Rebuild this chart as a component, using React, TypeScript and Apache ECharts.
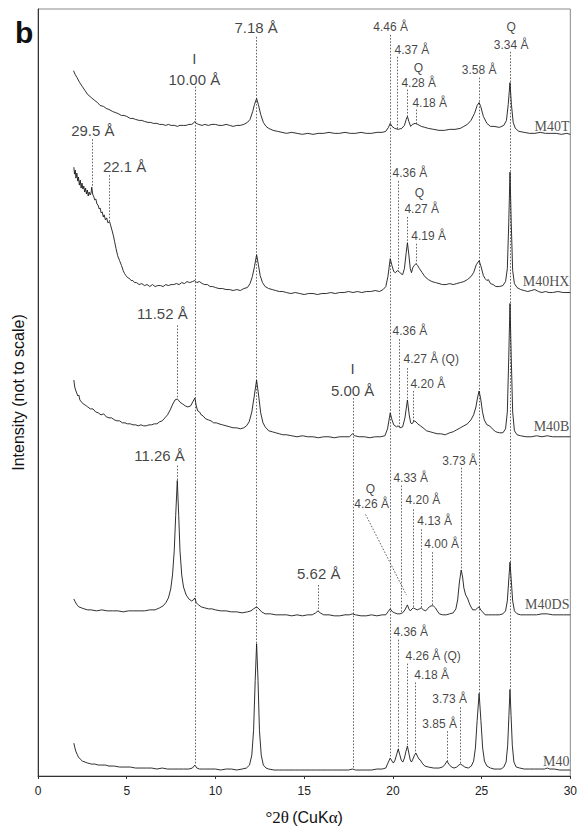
import React, { useEffect, useRef } from "react";
import * as echarts from "echarts";

// XRD patterns (°2θ, intensity above each pattern's own baseline, arbitrary units)
const M40T: [number, number][] = [[2.0,64],[2.1,60],[2.2,57],[2.35,52],[2.5,48],[2.65,44],[2.8,40],[3.0,37],[3.2,34],[3.35,32],[3.5,29],[3.7,28],[3.85,26],[4.0,25],[4.2,23],[4.35,22],[4.5,21],[4.7,19],[4.85,19],[5.0,18],[5.2,16],[5.35,16],[5.5,15],[5.7,14],[5.85,14],[6.0,13],[6.2,12],[6.35,12],[6.5,11],[6.7,11],[6.85,10],[7.0,10],[7.2,9],[7.35,10],[7.5,9],[7.7,9],[7.85,8],[8.0,9],[8.2,9],[8.35,9],[8.5,10],[8.65,10],[8.75,11],[8.84,13],[8.92,11],[9.05,10],[9.25,9],[9.4,10],[9.6,9],[9.8,10],[10.0,10],[10.2,9],[10.4,9],[10.6,10],[10.8,9],[11.0,8],[11.2,9],[11.4,9],[11.6,10],[11.8,12],[11.95,15],[12.1,23],[12.2,30],[12.32,36],[12.42,30],[12.55,20],[12.7,12],[12.85,8],[13.0,6],[13.25,4],[13.5,3],[13.75,2],[14.0,1],[14.3,2],[14.6,1],[14.9,0],[15.2,1],[15.5,0],[15.8,1],[16.1,1],[16.4,2],[16.7,1],[17.0,1],[17.3,2],[17.6,1],[17.9,1],[18.2,2],[18.5,1],[18.8,1],[19.1,2],[19.4,2],[19.6,3],[19.75,7],[19.85,11],[19.95,8],[20.1,6],[20.3,5],[20.5,6],[20.65,9],[20.75,15],[20.82,18],[20.9,13],[21.0,8],[21.1,10],[21.25,11],[21.4,10],[21.6,8],[21.8,7],[22.0,6],[22.3,5],[22.6,4],[22.9,4],[23.2,5],[23.5,5],[23.8,6],[24.0,8],[24.2,10],[24.4,14],[24.6,21],[24.75,29],[24.86,32],[24.95,28],[25.1,18],[25.3,11],[25.5,8],[25.7,8],[26.0,7],[26.25,9],[26.4,14],[26.5,30],[26.6,52],[26.68,30],[26.78,12],[26.9,6],[27.1,3],[27.4,2],[27.7,1],[28.0,1],[28.3,2],[28.6,1],[28.9,1],[29.2,1],[29.5,0],[29.8,1],[30.0,0]];

const M40HX: [number, number][] = [[2.02,126],[2.06,119],[2.1,123],[2.14,115],[2.19,120],[2.24,112],[2.28,116],[2.33,108],[2.38,113],[2.43,105],[2.48,110],[2.53,104],[2.58,107],[2.63,101],[2.68,105],[2.73,99],[2.78,103],[2.83,97],[2.88,101],[2.94,98],[2.99,100],[3.03,106],[3.08,99],[3.15,96],[3.2,93],[3.26,94],[3.32,89],[3.38,88],[3.45,84],[3.5,85],[3.56,80],[3.62,81],[3.68,76],[3.73,78],[3.8,73],[3.87,75],[3.94,70],[4.0,71],[4.04,71],[4.1,67],[4.18,62],[4.25,57],[4.32,51],[4.4,44],[4.49,37],[4.6,32],[4.71,27],[4.8,22],[4.88,19],[4.96,17],[5.05,15],[5.16,14],[5.25,12],[5.35,12],[5.44,10],[5.55,10],[5.7,8],[5.85,9],[6.0,7],[6.15,8],[6.3,6],[6.45,8],[6.6,6],[6.75,7],[6.9,7],[7.05,6],[7.2,8],[7.35,7],[7.5,8],[7.65,8],[7.8,9],[7.95,8],[8.1,10],[8.25,9],[8.4,11],[8.55,10],[8.7,11],[8.84,12],[8.95,10],[9.1,11],[9.25,9],[9.4,8],[9.55,8],[9.7,6],[9.85,6],[10.0,5],[10.2,4],[10.4,4],[10.6,3],[10.8,3],[11.0,2],[11.2,3],[11.4,2],[11.6,4],[11.8,5],[11.95,9],[12.08,16],[12.2,26],[12.32,38],[12.42,28],[12.52,17],[12.65,10],[12.8,6],[13.0,4],[13.2,3],[13.4,2],[13.6,1],[13.8,1],[14.0,0],[14.25,-1],[14.5,0],[14.75,-1],[15.0,-2],[15.25,-1],[15.5,-1],[15.75,-2],[16.0,-1],[16.25,-1],[16.5,0],[16.75,-1],[17.0,0],[17.25,0],[17.5,1],[17.75,0],[18.0,1],[18.25,0],[18.5,1],[18.75,1],[19.0,2],[19.25,1],[19.45,3],[19.6,6],[19.72,16],[19.85,34],[19.95,27],[20.05,21],[20.15,20],[20.25,22],[20.35,21],[20.45,19],[20.55,18],[20.65,24],[20.75,40],[20.82,50],[20.9,38],[20.98,24],[21.05,20],[21.12,25],[21.2,27],[21.3,29],[21.4,27],[21.5,24],[21.65,20],[21.8,16],[22.0,13],[22.2,11],[22.4,10],[22.6,9],[22.8,8],[23.0,8],[23.2,9],[23.4,8],[23.6,9],[23.8,10],[24.0,11],[24.2,13],[24.4,16],[24.55,20],[24.7,28],[24.86,32],[24.97,26],[25.1,17],[25.2,14],[25.3,12],[25.38,13],[25.5,9],[25.65,8],[25.8,6],[26.0,6],[26.2,7],[26.35,11],[26.45,24],[26.53,70],[26.6,121],[26.67,70],[26.75,22],[26.85,9],[27.0,5],[27.2,3],[27.4,2],[27.6,1],[27.8,2],[28.0,3],[28.2,1],[28.4,0],[28.6,1],[28.8,0],[29.0,0],[29.3,1],[29.6,0],[30.0,0]];

const M40B: [number, number][] = [[2.02,57],[2.07,50],[2.12,47],[2.18,44],[2.25,41],[2.3,42],[2.36,37],[2.45,35],[2.55,33],[2.65,32],[2.8,30],[2.95,28],[3.1,28],[3.25,25],[3.4,24],[3.55,22],[3.7,23],[3.85,20],[4.0,19],[4.15,19],[4.3,17],[4.45,16],[4.6,16],[4.75,14],[4.9,14],[5.05,13],[5.2,13],[5.35,12],[5.5,12],[5.65,11],[5.8,12],[5.95,11],[6.1,11],[6.25,12],[6.4,12],[6.55,13],[6.7,13],[6.85,15],[7.0,16],[7.15,19],[7.3,22],[7.45,27],[7.6,33],[7.72,37],[7.85,38],[7.95,36],[8.05,34],[8.15,33],[8.3,31],[8.45,30],[8.6,31],[8.72,35],[8.84,39],[8.92,31],[9.0,26],[9.1,25],[9.2,22],[9.3,21],[9.45,18],[9.6,17],[9.75,16],[9.9,14],[10.05,14],[10.2,13],[10.4,12],[10.6,11],[10.8,10],[11.0,9],[11.2,9],[11.4,8],[11.6,9],[11.75,11],[11.9,15],[12.05,25],[12.18,40],[12.32,57],[12.43,42],[12.55,24],[12.68,14],[12.8,10],[13.0,6],[13.2,5],[13.4,4],[13.6,3],[13.8,2],[14.0,2],[14.3,1],[14.6,0],[14.9,1],[15.2,0],[15.5,0],[15.8,-1],[16.1,0],[16.4,0],[16.7,-1],[17.0,0],[17.3,0],[17.55,0],[17.72,3],[17.85,1],[18.1,0],[18.4,0],[18.7,-1],[19.0,0],[19.3,0],[19.55,1],[19.7,8],[19.85,24],[19.95,17],[20.05,12],[20.2,10],[20.3,11],[20.4,9],[20.55,10],[20.68,19],[20.82,37],[20.92,22],[21.0,14],[21.08,13],[21.2,16],[21.3,15],[21.4,13],[21.55,11],[21.7,9],[21.9,6],[22.1,5],[22.3,4],[22.5,3],[22.7,3],[22.95,2],[23.2,4],[23.4,5],[23.6,7],[23.8,9],[24.0,11],[24.2,13],[24.4,17],[24.55,22],[24.68,30],[24.78,40],[24.86,46],[24.95,38],[25.05,25],[25.15,17],[25.3,12],[25.45,11],[25.6,8],[25.8,5],[26.0,4],[26.2,4],[26.35,8],[26.45,25],[26.53,80],[26.6,134],[26.67,80],[26.75,25],[26.85,6],[27.0,2],[27.2,1],[27.5,0],[27.8,0],[28.1,1],[28.4,0],[28.7,1],[29.0,0],[29.3,0],[29.6,0],[30.0,0]];

const M40DS: [number, number][] = [[2.02,16],[2.1,13],[2.2,10],[2.3,8],[2.45,7],[2.6,6],[2.8,5],[3.0,5],[3.3,4],[3.6,5],[3.9,4],[4.2,4],[4.5,4],[4.8,3],[5.1,4],[5.4,4],[5.7,4],[6.0,4],[6.3,5],[6.6,5],[6.85,7],[7.05,9],[7.2,12],[7.35,17],[7.48,26],[7.58,40],[7.68,65],[7.76,100],[7.85,135],[7.93,100],[8.0,65],[8.1,40],[8.2,28],[8.35,20],[8.5,16],[8.65,14],[8.76,15],[8.84,17],[8.92,12],[9.05,10],[9.2,8],[9.4,7],[9.6,6],[9.8,6],[10.0,5],[10.3,4],[10.6,4],[10.9,3],[11.2,3],[11.5,2],[11.8,3],[12.0,4],[12.15,6],[12.32,8],[12.45,6],[12.6,3],[12.8,1],[13.1,1],[13.4,0],[13.7,0],[14.0,0],[14.3,-1],[14.6,0],[14.9,-1],[15.2,0],[15.45,0],[15.65,2],[15.78,4],[15.9,2],[16.1,0],[16.4,0],[16.7,-1],[17.0,-1],[17.3,0],[17.55,0],[17.72,1],[17.9,0],[18.2,-1],[18.5,-1],[18.8,0],[19.1,-1],[19.4,0],[19.6,0],[19.72,3],[19.85,6],[19.98,3],[20.1,2],[20.25,1],[20.4,1],[20.55,2],[20.68,5],[20.76,8],[20.82,10],[20.9,6],[20.98,4],[21.08,6],[21.15,7],[21.25,6],[21.38,5],[21.5,6],[21.6,7],[21.72,5],[21.85,4],[21.95,6],[22.05,8],[22.15,9],[22.28,9],[22.4,7],[22.5,4],[22.62,1],[22.8,0],[23.0,0],[23.2,1],[23.4,2],[23.55,6],[23.65,15],[23.75,33],[23.85,45],[23.93,38],[24.0,27],[24.1,20],[24.2,17],[24.3,12],[24.4,8],[24.5,5],[24.65,5],[24.78,7],[24.86,8],[24.95,5],[25.05,3],[25.2,0],[25.4,0],[25.6,0],[25.8,0],[26.0,0],[26.2,1],[26.35,4],[26.45,14],[26.53,35],[26.6,53],[26.67,35],[26.75,14],[26.85,4],[27.0,1],[27.2,0],[27.5,0],[27.8,0],[28.1,0],[28.4,1],[28.7,1],[29.0,0],[29.3,0],[29.6,0],[30.0,0]];

const M40: [number, number][] = [[2.02,27],[2.07,23],[2.13,19],[2.2,16],[2.28,13],[2.38,11],[2.5,9],[2.65,8],[2.8,7],[3.0,6],[3.2,6],[3.4,5],[3.6,5],[3.8,5],[4.0,4],[4.3,4],[4.6,3],[4.9,3],[5.2,3],[5.5,2],[5.8,2],[6.1,2],[6.4,2],[6.7,1],[7.0,2],[7.3,1],[7.6,1],[7.9,1],[8.2,1],[8.5,1],[8.7,2],[8.84,5],[8.95,2],[9.1,1],[9.4,1],[9.7,1],[10.0,1],[10.3,0],[10.6,1],[10.9,1],[11.2,0],[11.5,1],[11.75,2],[11.92,5],[12.05,15],[12.15,40],[12.24,90],[12.32,127],[12.4,90],[12.48,40],[12.58,15],[12.7,5],[12.85,2],[13.0,1],[13.3,0],[13.6,0],[13.9,0],[14.2,0],[14.5,0],[14.8,0],[15.1,0],[15.4,0],[15.7,0],[16.0,0],[16.3,0],[16.6,0],[16.9,0],[17.2,0],[17.5,0],[17.72,1],[17.9,0],[18.2,0],[18.5,0],[18.8,0],[19.1,1],[19.4,1],[19.6,2],[19.72,7],[19.85,12],[19.95,9],[20.03,7],[20.12,10],[20.22,16],[20.3,21],[20.38,16],[20.47,10],[20.56,8],[20.65,12],[20.74,19],[20.82,24],[20.9,17],[20.98,10],[21.05,8],[21.13,11],[21.22,15],[21.3,17],[21.38,14],[21.47,11],[21.55,10],[21.65,7],[21.8,4],[22.0,3],[22.3,2],[22.6,2],[22.8,3],[22.95,6],[23.05,9],[23.15,6],[23.3,3],[23.45,2],[23.6,3],[23.72,5],[23.8,6],[23.9,5],[24.05,3],[24.25,2],[24.42,4],[24.55,9],[24.65,22],[24.75,50],[24.86,77],[24.96,50],[25.06,22],[25.16,9],[25.3,4],[25.5,2],[25.7,1],[25.9,1],[26.1,1],[26.25,3],[26.38,8],[26.47,25],[26.54,55],[26.6,81],[26.66,55],[26.73,25],[26.82,8],[26.95,3],[27.15,2],[27.4,1],[27.7,1],[28.0,1],[28.3,1],[28.55,1],[28.7,2],[28.85,1],[29.1,1],[29.4,0],[29.7,0],[30.0,0]];

const SAMPLE_NAMES = ["M40T", "M40HX", "M40B", "M40DS", "M40"];
const TRACES = [M40T, M40HX, M40B, M40DS, M40];
// vertical stacking offset of each pattern
const TRACE_OFFSETS = [645, 486, 341, 162, 6];
// height of the sample name, measured from the plot bottom
const NAME_HEIGHTS = [653, 497, 351, 172, 15];

const X_TICKS = [0, 5, 10, 15, 20, 25, 30];

// reflection markers: position (°2θ), top of the dotted line, pattern it drops to
const GUIDES: { x: number; top: number; to: string }[] = [
  { x: 8.84, top: 693, to: "M40" },
  { x: 12.32, top: 743, to: "M40" },
  { x: 19.85, top: 745, to: "M40" },
  { x: 24.86, top: 702, to: "M40" },
  { x: 26.6, top: 728, to: "M40" },
  { x: 17.75, top: 380, to: "M40" },
  { x: 20.27, top: 723, to: "M40T" },
  { x: 20.82, top: 690, to: "M40T" },
  { x: 21.3, top: 670, to: "M40T" },
  { x: 3.03, top: 640, to: "M40HX" },
  { x: 4.04, top: 604, to: "M40HX" },
  { x: 20.31, top: 598, to: "M40HX" },
  { x: 20.82, top: 562, to: "M40HX" },
  { x: 21.3, top: 535, to: "M40HX" },
  { x: 7.85, top: 453, to: "M40B" },
  { x: 20.36, top: 439, to: "M40B" },
  { x: 20.82, top: 410, to: "M40B" },
  { x: 21.16, top: 387, to: "M40B" },
  { x: 7.85, top: 312, to: "M40DS" },
  { x: 15.8, top: 192, to: "M40DS" },
  { x: 20.48, top: 292, to: "M40DS" },
  { x: 21.15, top: 268, to: "M40DS" },
  { x: 21.6, top: 248, to: "M40DS" },
  { x: 22.2, top: 225, to: "M40DS" },
  { x: 23.85, top: 310, to: "M40DS" },
  { x: 20.33, top: 137, to: "M40" },
  { x: 20.82, top: 113, to: "M40" },
  { x: 21.27, top: 94, to: "M40" },
  { x: 23.79, top: 69, to: "M40" },
  { x: 23.05, top: 45, to: "M40" },
];

// leader from the quartz 4.26 Å label to the M40DS reflection
const LEADER: [number, number][] = [[18.46, 263], [20.76, 182]];

// large d-spacing labels (centred)
const BIG_LABELS: { x: number; y: number; text: string }[] = [
  { x: 12.29, y: 752, text: "7.18 Å" },
  { x: 8.81, y: 721, text: "I" },
  { x: 8.81, y: 700, text: "10.00 Å" },
  { x: 3.09, y: 649, text: "29.5 Å" },
  { x: 4.88, y: 613, text: "22.1 Å" },
  { x: 7.01, y: 465, text: "11.52 Å" },
  { x: 17.73, y: 410, text: "I" },
  { x: 17.73, y: 388, text: "5.00 Å" },
  { x: 6.85, y: 322, text: "11.26 Å" },
  { x: 15.82, y: 204, text: "5.62 Å" },
];

// small d-spacing labels; align "left" starts the text at x
const SMALL_LABELS: { x: number; y: number; text: string; align: "left" | "center" }[] = [
  { x: 19.87, y: 753, text: "4.46 Å", align: "center" },
  { x: 20.09, y: 730, text: "4.37 Å", align: "left" },
  { x: 21.44, y: 712, text: "Q", align: "center" },
  { x: 20.48, y: 697, text: "4.28 Å", align: "left" },
  { x: 21.1, y: 677, text: "4.18 Å", align: "left" },
  { x: 24.86, y: 710, text: "3.58 Å", align: "center" },
  { x: 26.66, y: 753, text: "Q", align: "center" },
  { x: 26.66, y: 735, text: "3.34 Å", align: "center" },
  { x: 19.98, y: 606, text: "4.36 Å", align: "left" },
  { x: 21.49, y: 586, text: "Q", align: "center" },
  { x: 20.65, y: 570, text: "4.27 Å", align: "left" },
  { x: 21.04, y: 543, text: "4.19 Å", align: "left" },
  { x: 19.98, y: 447, text: "4.36 Å", align: "left" },
  { x: 20.6, y: 419, text: "4.27 Å (Q)", align: "left" },
  { x: 20.99, y: 394, text: "4.20 Å", align: "left" },
  { x: 18.74, y: 288, text: "Q", align: "center" },
  { x: 18.8, y: 273, text: "4.26 Å", align: "center" },
  { x: 20.03, y: 300, text: "4.33 Å", align: "left" },
  { x: 20.71, y: 277, text: "4.20 Å", align: "left" },
  { x: 21.38, y: 256, text: "4.13 Å", align: "left" },
  { x: 21.77, y: 233, text: "4.00 Å", align: "left" },
  { x: 22.78, y: 317, text: "3.73 Å", align: "left" },
  { x: 20.03, y: 145, text: "4.36 Å", align: "left" },
  { x: 20.71, y: 121, text: "4.26 Å (Q)", align: "left" },
  { x: 21.21, y: 102, text: "4.18 Å", align: "left" },
  { x: 22.22, y: 77, text: "3.73 Å", align: "left" },
  { x: 21.66, y: 52, text: "3.85 Å", align: "left" },
];

const SANS = "'Liberation Sans', Arial, sans-serif";
const SERIF = "'Liberation Serif', 'Times New Roman', serif";

function valueAt(trace: [number, number][], x: number): number {
  for (let i = 1; i < trace.length; i++) {
    const [x0, y0] = trace[i - 1];
    const [x1, y1] = trace[i];
    if (x >= x0 && x <= x1) {
      const t = x1 === x0 ? 0 : (x - x0) / (x1 - x0);
      return y0 + t * (y1 - y0);
    }
  }
  return trace[trace.length - 1][1];
}

const plainText = {
  color: "#111",
  textBorderWidth: 0,
  textBorderColor: "transparent",
  textShadowBlur: 0,
  textShadowColor: "transparent",
};

export default function App() {
  const ref = useRef<HTMLDivElement>(null);

  useEffect(() => {
    document.body.style.margin = "0";
    if (!ref.current) return;
    const chart = echarts.init(ref.current, undefined, { renderer: "svg" });

    const traceSeries = TRACES.map((trace, i) => ({
      type: "line",
      name: SAMPLE_NAMES[i],
      data: trace.map(([x, v]) => [x, v + TRACE_OFFSETS[i]]),
      showSymbol: false,
      symbol: "none",
      lineStyle: { color: "#1a1a1a", width: 0.9 },
      z: 4,
      silent: true,
    }));

    const guideData = GUIDES.map((g) => {
      const idx = SAMPLE_NAMES.indexOf(g.to);
      const bottom = valueAt(TRACES[idx], g.x) + TRACE_OFFSETS[idx];
      return { coords: [[g.x, g.top], [g.x, bottom]] };
    });
    guideData.push({ coords: LEADER });

    const labelItems: any[] = [];
    BIG_LABELS.forEach((l) =>
      labelItems.push({
        value: [l.x, l.y],
        label: {
          show: true,
          position: "inside",
          formatter: l.text,
          fontSize: 15,
          fontFamily: SANS,
          ...plainText,
        },
      })
    );
    SMALL_LABELS.forEach((l) =>
      labelItems.push({
        value: [l.x, l.y],
        label: {
          show: true,
          position: l.align === "left" ? "right" : "inside",
          distance: 0,
          formatter: l.text,
          fontSize: 12,
          fontFamily: SANS,
          ...plainText,
        },
      })
    );
    SAMPLE_NAMES.forEach((name, i) =>
      labelItems.push({
        value: [29.95, NAME_HEIGHTS[i]],
        label: {
          show: true,
          position: "left",
          distance: 0,
          formatter: name,
          fontSize: 14,
          fontFamily: SERIF,
          ...plainText,
          color: "#222",
        },
      })
    );

    chart.setOption({
      animation: false,
      grid: {
        left: 38,
        right: 7,
        top: 9,
        bottom: 51,
        show: true,
        borderColor: "#8a8a8a",
        borderWidth: 1,
      },
      xAxis: {
        type: "value",
        min: X_TICKS[0],
        max: X_TICKS[X_TICKS.length - 1],
        interval: 5,
        axisLine: { show: true, lineStyle: { color: "#333", width: 1 } },
        axisTick: { show: true, length: 3, lineStyle: { color: "#333" } },
        axisLabel: { fontSize: 12, fontFamily: SANS, color: "#222", margin: 9 },
        splitLine: { show: false },
        name: "{s|°2θ} {t|(CuK}{s|α}{t|)}",
        nameLocation: "middle",
        nameGap: 33,
        nameTextStyle: {
          rich: {
            s: { fontSize: 17, fontFamily: SERIF, color: "#111" },
            t: { fontSize: 16, fontFamily: SANS, color: "#111" },
          },
        },
      },
      yAxis: {
        type: "value",
        min: 0,
        max: 771,
        axisLine: { show: true, lineStyle: { color: "#333", width: 1 } },
        axisTick: { show: false },
        axisLabel: { show: false },
        splitLine: { show: false },
        name: "Intensity (not to scale)",
        nameLocation: "middle",
        nameGap: 12,
        nameTextStyle: { fontSize: 16, fontFamily: SANS, color: "#111" },
      },
      graphic: [
        {
          type: "text",
          left: 15,
          top: 17,
          style: {
            text: "b",
            font: "bold 30px 'Liberation Sans', Arial, sans-serif",
            fill: "#111",
          },
        },
      ],
      series: [
        ...traceSeries,
        {
          type: "lines",
          coordinateSystem: "cartesian2d",
          polyline: false,
          silent: true,
          z: 2,
          lineStyle: { color: "#555", width: 0.9, type: [1.6, 1.6], opacity: 1 },
          data: guideData,
        },
        {
          type: "scatter",
          symbolSize: 0,
          silent: true,
          z: 5,
          itemStyle: { color: "#111" },
          data: labelItems,
        },
      ],
    });

    return () => chart.dispose();
  }, []);

  return (
    <div
      ref={ref}
      style={{ position: "absolute", left: 0, top: 0, width: 580, height: 831 }}
    />
  );
}
